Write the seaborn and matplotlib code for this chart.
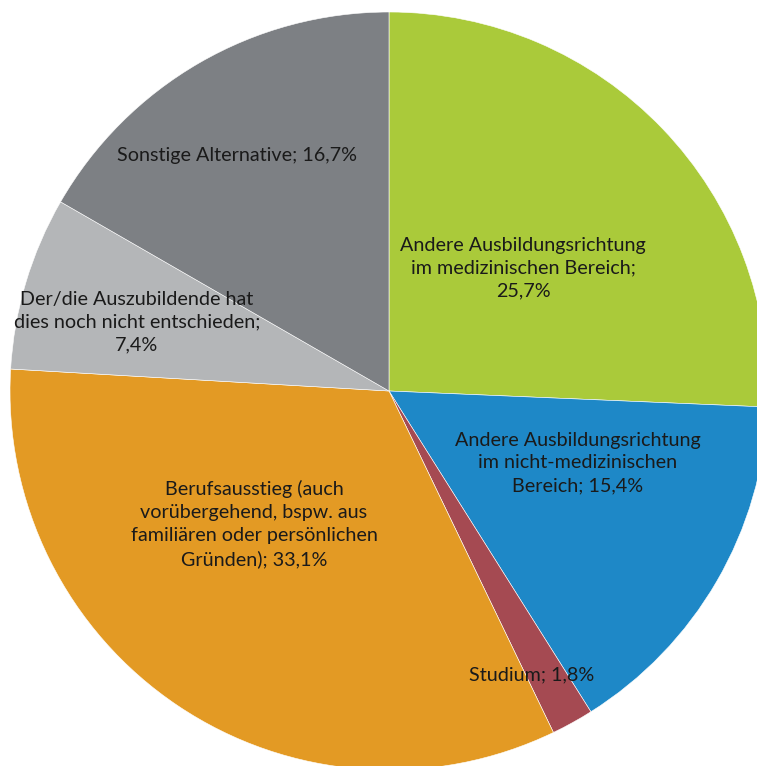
import matplotlib
matplotlib.use("Agg")
import matplotlib.pyplot as plt
import seaborn as sns

sns.set_theme(style="white")
plt.rcParams["font.family"] = ["Lato", "DejaVu Sans"]

# Anteile der Alternativen (in Prozent), im Uhrzeigersinn ab 12 Uhr
labels = [
    "Andere Ausbildungsrichtung\nim medizinischen Bereich;\n25,7%",
    "Andere Ausbildungsrichtung\nim nicht-medizinischen\nBereich; 15,4%",
    "Studium; 1,8%",
    "Berufsausstieg (auch\nvorübergehend, bspw. aus\nfamiliären oder persönlichen\nGründen); 33,1%",
    "Der/die Auszubildende hat\ndies noch nicht entschieden;\n7,4%",
    "Sonstige Alternative; 16,7%",
]
values = [25.7, 15.4, 1.8, 33.1, 7.4, 16.7]
colors = ["#AACA3A", "#1E88C7", "#A54A52", "#E39A24", "#B4B6B8", "#7D8084"]

# Beschriftungsorte in Pixeln (x von links, y von oben)
label_px = [(523, 268), (578, 463), (532, 675), (254, 524), (137, 322), (237, 155)]

W, H = 757, 766
cx, cy, r = 389, 391, 379

fig = plt.figure(figsize=(W / 100, H / 100), dpi=100)
ax = fig.add_axes([0, 0, 1, 1])
ax.pie(values, colors=colors, startangle=90, counterclock=False,
       radius=1.0, center=(0, 0),
       wedgeprops=dict(edgecolor="white", linewidth=0.4))

for text, (px, py) in zip(labels, label_px):
    ax.text((px - cx) / r, (cy - py) / r, text, ha="center", va="center",
            fontsize=14.2, color="#1a1a1a", linespacing=1.42)

ax.set_xlim(-cx / r, (W - cx) / r)
ax.set_ylim(-(H - cy) / r, cy / r)
ax.set_aspect("auto")
ax.axis("off")
fig.savefig("out.png", dpi=100, facecolor="white")
